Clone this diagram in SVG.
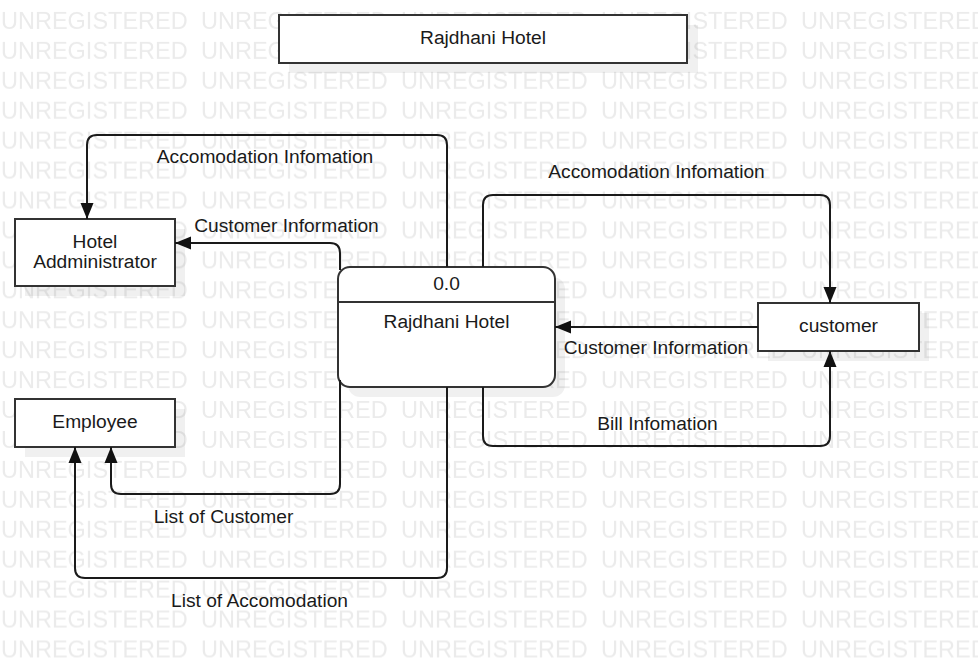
<svg xmlns="http://www.w3.org/2000/svg" width="978" height="670" viewBox="0 0 978 670">
<style>
.wm{font-family:"Liberation Sans",Arial,sans-serif;font-size:23.5px;fill:#ebebeb}
.box{fill:#fff;stroke:#333;stroke-width:2}
.shadow{fill:#000;fill-opacity:0.06}
.t{font-family:"Liberation Sans",Arial,sans-serif;font-size:19.2px;fill:#1a1a1a;text-anchor:middle}
.edge{fill:none;stroke:#1a1a1a;stroke-width:2}
</style>
<defs>
<pattern id="wmp" patternUnits="userSpaceOnUse" x="0" y="0" width="200" height="29.93">
<text class="wm" x="1" y="29">UNREGISTERED</text>
</pattern>
<marker id="arr" markerUnits="userSpaceOnUse" markerWidth="16" markerHeight="14" refX="16" refY="7" orient="auto">
<path d="M0,0.5 L16,7 L0,13.5 z" fill="#111"/>
</marker>
</defs>
<rect x="0" y="0" width="978" height="670" fill="#fff"/>
<rect x="0" y="0" width="978" height="670" fill="url(#wmp)"/>

<g id="title">
<rect class="shadow" x="289" y="25" width="409" height="48"/>
<rect class="box" x="279" y="15" width="408" height="48"/>
<text class="t" x="483" y="44">Rajdhani Hotel</text>
</g>

<g id="hotel-admin">
<rect class="shadow" x="25" y="229" width="160" height="67"/>
<rect class="box" x="15" y="219" width="160" height="67"/>
<text class="t" x="95" y="248">Hotel</text>
<text class="t" x="95" y="268">Addministrator</text>
</g>

<g id="employee">
<rect class="shadow" x="25" y="409" width="160" height="48"/>
<rect class="box" x="15" y="399" width="160" height="48"/>
<text class="t" x="95" y="428">Employee</text>
</g>

<g id="customer">
<rect class="shadow" x="768" y="313" width="161" height="48"/>
<rect class="box" x="758" y="303" width="161" height="48"/>
<text class="t" x="838.5" y="332">customer</text>
</g>

<g id="process">
<rect class="shadow" x="348" y="277" width="217" height="120" rx="12"/>
<rect class="box" x="338" y="267" width="217" height="120" rx="12"/>
<line x1="338" y1="302" x2="555" y2="302" stroke="#333" stroke-width="2"/>
<text class="t" x="446.5" y="290">0.0</text>
<text class="t" x="446.5" y="328">Rajdhani Hotel</text>
</g>

<g id="connectors">
<path class="edge" marker-end="url(#arr)" d="M447,267 V145 Q447,135 437,135 H97 Q87,135 87,145 V219"/>
<path class="edge" marker-end="url(#arr)" d="M340,270 V253 Q340,243 330,243 H175"/>
<path class="edge" marker-end="url(#arr)" d="M483,267 V205 Q483,195 493,195 H820 Q830,195 830,205 V303"/>
<path class="edge" marker-end="url(#arr)" d="M758,327 H555"/>
<path class="edge" marker-end="url(#arr)" d="M483,387 V436 Q483,446 493,446 H820 Q830,446 830,436 V351"/>
<path class="edge" marker-end="url(#arr)" d="M340,380 V484 Q340,494 330,494 H121 Q111,494 111,484 V447"/>
<path class="edge" marker-end="url(#arr)" d="M447,387 V568 Q447,578 437,578 H85 Q75,578 75,568 V447"/>
<text class="t" x="265" y="163">Accomodation Infomation</text>
<text class="t" x="286.5" y="232">Customer Information</text>
<text class="t" x="656.5" y="178">Accomodation Infomation</text>
<text class="t" x="656" y="354">Customer Information</text>
<text class="t" x="657.5" y="430">Bill Infomation</text>
<text class="t" x="223.5" y="523">List of Customer</text>
<text class="t" x="259.5" y="607">List of Accomodation</text>
</g>
</svg>
